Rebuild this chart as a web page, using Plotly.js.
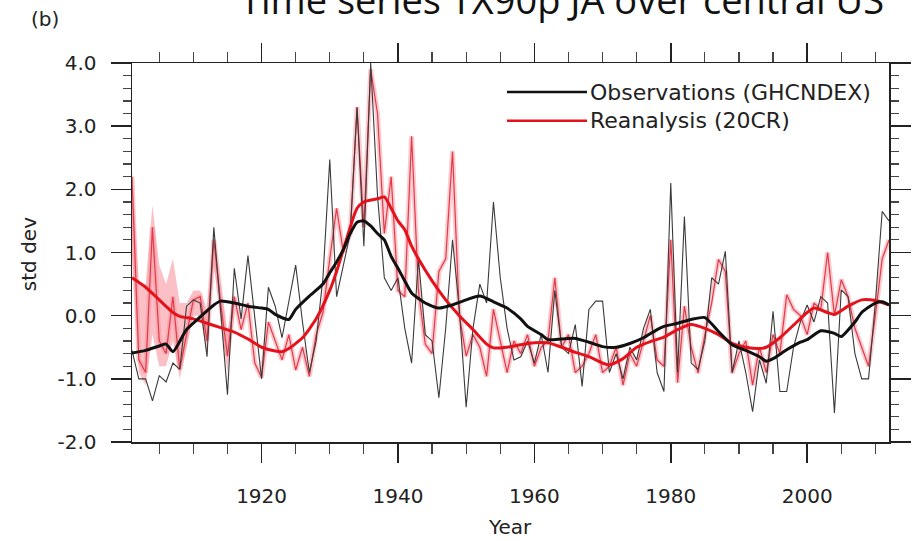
<!DOCTYPE html>
<html>
<head>
<meta charset="utf-8">
<script src="https://cdn.plot.ly/plotly-3.0.1.min.js"></script>
<style>html,body{margin:0;padding:0;background:#fff;}</style>
</head>
<body>
<div id="chart" style="width:912px;height:541px;"></div>
<script>
// ---- data ----
const years = [];
for (let y = 1901; y <= 2012; y++) years.push(y);

const obsAnnual = [
 -0.55,-1.0,-1.0,-1.35,-0.95,-1.05,-0.75,-0.85,0.15,0.25,
 0.2,-0.65,1.4,0.1,-1.25,0.75,-0.05,0.95,0.0,-1.0,
 0.45,0.15,-0.35,0.2,0.8,-0.1,-0.9,-0.4,0.6,2.47,
 0.3,0.8,1.3,3.3,1.1,4.0,1.9,0.6,0.4,0.6,
 -0.2,-0.75,0.9,-0.3,-0.4,-1.3,-0.2,1.2,0.1,-1.45,
 -0.2,0.5,0.2,1.8,0.6,-0.2,-0.7,-0.65,-0.4,-0.75,
 -0.3,-0.9,0.4,-0.5,-0.6,-0.14,-1.12,0.1,0.23,0.23,
 -0.9,-0.6,-1.0,-0.5,-0.7,-0.2,0.1,-0.9,-1.2,2.1,
 -0.9,1.57,-0.75,-0.85,-0.4,0.6,0.5,1.02,-0.9,-0.4,
 -0.9,-1.52,-0.7,-1.07,0.07,-1.2,-1.2,-0.5,-0.1,0.17,
 -0.1,0.3,0.2,-1.54,0.41,0.3,-0.6,-1.0,-1.0,0.2,
 1.65,1.5
];

const reaAnnual = [
 2.2,-0.7,-0.9,1.4,-0.4,-0.6,0.3,-0.85,-0.3,0.25,
 0.3,-0.4,1.2,0.2,-0.64,0.3,-0.22,0.2,-0.75,-0.98,
 -0.1,-0.4,-0.7,-0.3,-0.86,-0.5,-0.96,-0.3,0.05,0.9,
 1.7,1.0,1.3,3.3,1.4,3.9,3.2,1.3,2.2,0.4,
 0.3,2.84,0.4,-0.45,-0.6,0.7,0.9,2.6,0.0,-0.64,
 -0.3,-0.5,-0.96,0.1,-0.4,-0.9,-0.4,-0.6,-0.3,-0.8,
 -0.5,-0.4,0.6,-0.5,-0.3,-0.9,-0.8,-0.6,-0.3,-0.9,
 -0.8,-0.5,-1.1,-0.6,-0.8,-0.4,0.0,-0.7,-0.8,1.2,
 -1.06,0.15,-0.5,-0.91,-0.3,0.2,0.89,0.7,-0.91,-0.6,
 -0.4,-1.1,-0.5,-0.9,-0.3,-0.6,0.33,0.1,0.0,-0.3,
 0.2,0.1,1.0,0.0,0.57,0.3,-0.2,-0.5,-0.8,0.0,
 0.9,1.2
];

// ensemble spread, early period where it is wide
const spreadYears = [1901,1902,1903,1904,1905,1906,1907,1908,1909,1910,1911,1912,1913,1914,1915,1916];
const spreadHigh  = [2.3,0.5,0.5,1.75,0.8,0.5,0.9,0.2,0.2,0.4,0.4,0.1,1.3,0.5,-0.3,0.4];
const spreadLow   = [0.9,-0.9,-1.1,-0.3,-0.8,-0.8,-0.4,-1.0,-0.5,0.0,0.0,-0.6,0.8,-0.1,-0.9,0.0];

// smoothed curves (read at selected years)
const obsSmoothYears = [1901,1903,1905,1906,1907,1909,1911,1913,1914,1916,1918,1920,1921,1922,1924,1925,1927,1929,1930,1931,1932,1933,1934,1935,1936,1937,1938,1939,1940,1941,1942,1944,1946,1948,1950,1952,1954,1956,1958,1959,1961,1962,1964,1966,1968,1970,1972,1974,1976,1978,1979,1981,1983,1985,1987,1989,1991,1993,1994,1995,1997,1999,2000,2002,2004,2005,2007,2008,2010,2011,2012];
const obsSmooth = [-0.59,-0.55,-0.48,-0.45,-0.57,-0.22,-0.02,0.17,0.23,0.2,0.15,0.12,0.1,0.02,-0.06,0.1,0.31,0.5,0.68,0.85,1.05,1.3,1.48,1.5,1.42,1.3,1.2,0.94,0.75,0.55,0.36,0.2,0.12,0.17,0.25,0.31,0.22,0.12,-0.05,-0.17,-0.3,-0.38,-0.37,-0.36,-0.42,-0.49,-0.5,-0.44,-0.35,-0.22,-0.17,-0.12,-0.06,-0.03,-0.25,-0.46,-0.55,-0.65,-0.72,-0.68,-0.54,-0.42,-0.38,-0.24,-0.28,-0.33,-0.1,0.05,0.2,0.22,0.17];

const reaSmoothYears = [1901,1903,1905,1907,1908,1910,1912,1914,1916,1918,1920,1922,1923,1924,1926,1928,1930,1931,1932,1933,1934,1935,1937,1938,1939,1940,1941,1942,1943,1945,1947,1949,1951,1953,1954,1956,1958,1960,1962,1964,1966,1968,1970,1971,1973,1975,1977,1979,1981,1983,1985,1987,1989,1991,1993,1994,1996,1998,2000,2001,2003,2004,2006,2008,2010,2012];
const reaSmooth = [0.6,0.45,0.25,0.05,-0.01,-0.05,-0.12,-0.19,-0.26,-0.37,-0.5,-0.56,-0.57,-0.52,-0.35,-0.05,0.4,0.7,1.05,1.4,1.7,1.8,1.85,1.88,1.7,1.5,1.36,1.1,0.9,0.55,0.25,0.0,-0.22,-0.45,-0.51,-0.5,-0.46,-0.43,-0.43,-0.5,-0.58,-0.65,-0.75,-0.78,-0.68,-0.5,-0.41,-0.34,-0.22,-0.14,-0.2,-0.3,-0.44,-0.5,-0.52,-0.5,-0.35,-0.15,0.05,0.12,0.05,0.02,0.15,0.25,0.24,0.17];

const xTickVals = [1920, 1940, 1960, 1980, 2000];
const xTickText = ["1920", "1940", "1960", "1980", "2000"];
const yTickVals = [-2, -1, 0, 1, 2, 3, 4];
const yTickText = ["-2.0", "-1.0", "0.0", "1.0", "2.0", "3.0", "4.0"];

const legendLabels = ["Observations (GHCNDEX)", "Reanalysis (20CR)"];
const chartTitle = "Time series TX90p JA over central US";
const panelLabel = "(b)";
const xTitle = "Year";
const yTitle = "std dev";

// ---- styling ----
const FONT = "DejaVu Sans, Liberation Sans, Arial, sans-serif";
const BLACK = "#111111";
const RED = "#e5121c";

const traces = [
  {x: spreadYears, y: spreadHigh, mode: "lines", line: {width: 0, color: "rgba(0,0,0,0)"}, hoverinfo: "skip", showlegend: false},
  {x: spreadYears, y: spreadLow, mode: "lines", fill: "tonexty", fillcolor: "rgba(245,140,150,0.55)", line: {width: 0, color: "rgba(0,0,0,0)"}, hoverinfo: "skip", showlegend: false},
  {x: years, y: reaAnnual, mode: "lines", line: {width: 5, color: "rgba(245,140,150,0.45)"}, hoverinfo: "skip", showlegend: false},
  {x: years, y: reaAnnual, mode: "lines", line: {width: 1.2, color: "#e23a48"}, showlegend: false},
  {x: years, y: obsAnnual, mode: "lines", line: {width: 1.1, color: "#3a3a3a"}, showlegend: false},
  {x: reaSmoothYears, y: reaSmooth, mode: "lines", line: {width: 3, color: RED, shape: "spline", smoothing: 0.6}, showlegend: false},
  {x: obsSmoothYears, y: obsSmooth, mode: "lines", line: {width: 3, color: BLACK, shape: "spline", smoothing: 0.6}, showlegend: false}
];

const axisCommon = {
  showline: true, linecolor: "#222", linewidth: 1.5,
  ticks: "outside", tickcolor: "#222", tickwidth: 1.5,
  mirror: "allticks", showgrid: false, zeroline: false,
  tickfont: {family: FONT, size: 20, color: "#222"}
};

const L = 131.7, R = 888.7, T = 63.3, B = 442;
const W = 912, H = 541;
const px = x => (x - L) / (R - L);
const py = y => (B - y) / (B - T);

const layout = {
  width: W, height: H,
  margin: {l: L, r: W - R, t: T, b: H - B, pad: 0},
  paper_bgcolor: "#fff", plot_bgcolor: "#fff",
  showlegend: false,
  font: {family: FONT, color: "#222"},
  xaxis: Object.assign({}, axisCommon, {
    range: [1901, 2012], tickmode: "array", tickvals: xTickVals, ticktext: xTickText, ticklen: 19,
    ticklabelstandoff: 16,
    minor: {ticks: "outside", tick0: 1900, dtick: 5, ticklen: 10, tickwidth: 1.2, tickcolor: "#444", showgrid: false}
  }),
  yaxis: Object.assign({}, axisCommon, {
    range: [-2, 4], tickmode: "array", tickvals: yTickVals, ticktext: yTickText, ticklen: 20,
    ticklabelstandoff: 10,
    minor: {ticks: "outside", tick0: 0, dtick: 0.2, ticklen: 8, tickwidth: 1.2, tickcolor: "#444", showgrid: false}
  }),
  shapes: [
    {type: "line", xref: "paper", yref: "paper", x0: px(506.7), x1: px(586.7), y0: py(92.3), y1: py(92.3), line: {color: BLACK, width: 2.5}},
    {type: "line", xref: "paper", yref: "paper", x0: px(506.7), x1: px(586.7), y0: py(121), y1: py(121), line: {color: RED, width: 2.5}}
  ],
  annotations: [
    {text: legendLabels[0], xref: "paper", yref: "paper", x: px(588), y: py(92.3), xanchor: "left", yanchor: "middle", showarrow: false, font: {family: FONT, size: 22, color: "#222"}},
    {text: legendLabels[1], xref: "paper", yref: "paper", x: px(588), y: py(121), xanchor: "left", yanchor: "middle", showarrow: false, font: {family: FONT, size: 22, color: "#222"}},
    {text: panelLabel, xref: "paper", yref: "paper", x: px(45), y: py(19), xanchor: "center", yanchor: "middle", showarrow: false, font: {family: FONT, size: 20, color: "#222"}},
    {text: xTitle, xref: "paper", yref: "paper", x: px(510), y: py(527), xanchor: "center", yanchor: "middle", showarrow: false, font: {family: FONT, size: 20, color: "#222"}},
    {text: yTitle, xref: "paper", yref: "paper", x: px(29), y: py(254), xanchor: "center", yanchor: "middle", textangle: -90, showarrow: false, font: {family: FONT, size: 20, color: "#222"}},
    {text: chartTitle, xref: "paper", yref: "paper", x: px(562), y: py(27), xanchor: "center", yanchor: "bottom", showarrow: false, font: {family: "Open Sans, sans-serif", size: 38, color: "#111"}}
  ]
};

Plotly.newPlot("chart", traces, layout, {staticPlot: true, displayModeBar: false});
</script>
</body>
</html>
